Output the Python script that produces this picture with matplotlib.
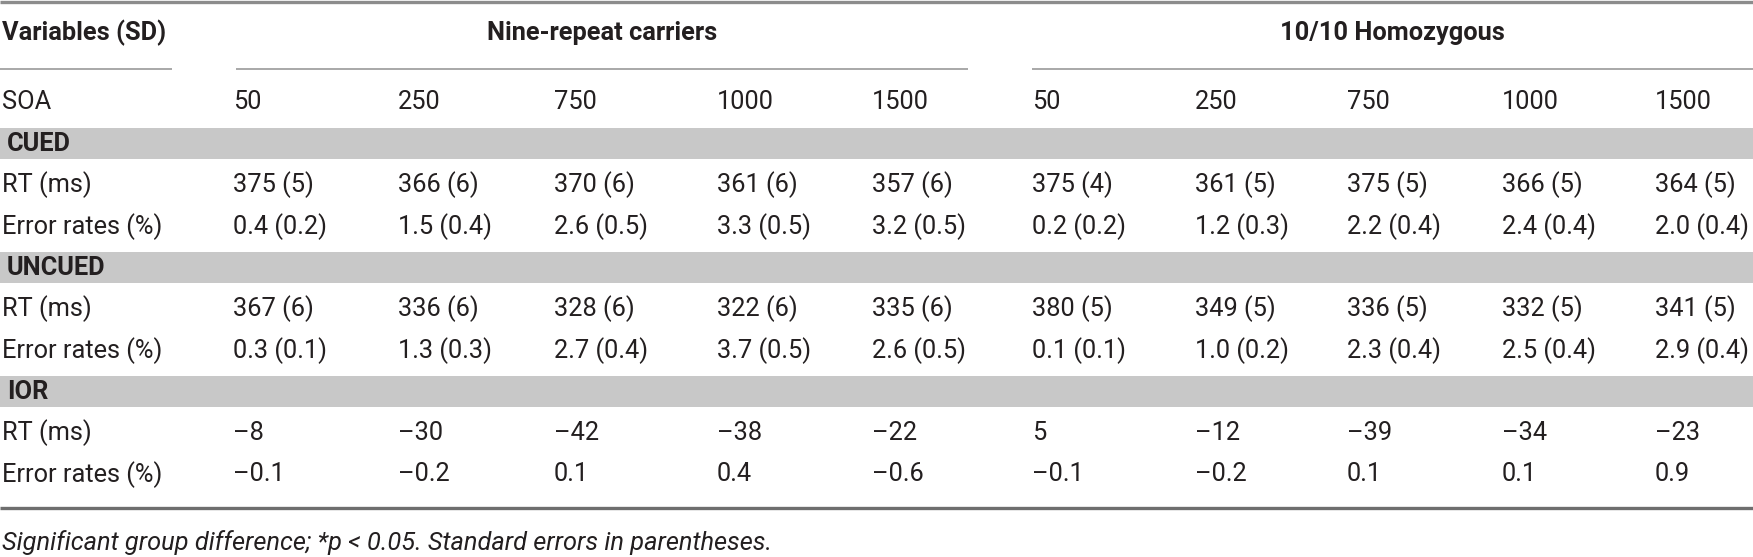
import matplotlib
matplotlib.use("Agg")
import matplotlib.pyplot as plt

plt.rcParams['font.family'] = ['Roboto', 'Liberation Sans', 'DejaVu Sans']

# table data
soa = [50, 250, 750, 1000, 1500]
groups = ["Nine-repeat carriers", "10/10 Homozygous"]
sections = ["CUED", "UNCUED", "IOR"]
row_labels = ["RT (ms)", "Error rates (%)"]

# nine-repeat carriers
nine_cued_rt = [375, 366, 370, 361, 357]
nine_cued_rt_se = [5, 6, 6, 6, 6]
nine_cued_err = [0.4, 1.5, 2.6, 3.3, 3.2]
nine_cued_err_se = [0.2, 0.4, 0.5, 0.5, 0.5]
nine_uncued_rt = [367, 336, 328, 322, 335]
nine_uncued_rt_se = [6, 6, 6, 6, 6]
nine_uncued_err = [0.3, 1.3, 2.7, 3.7, 2.6]
nine_uncued_err_se = [0.1, 0.3, 0.4, 0.5, 0.5]
nine_ior_rt = [-8, -30, -42, -38, -22]
nine_ior_err = [-0.1, -0.2, 0.1, 0.4, -0.6]

# 10/10 homozygous
homo_cued_rt = [375, 361, 375, 366, 364]
homo_cued_rt_se = [4, 5, 5, 5, 5]
homo_cued_err = [0.2, 1.2, 2.2, 2.4, 2.0]
homo_cued_err_se = [0.2, 0.3, 0.4, 0.4, 0.4]
homo_uncued_rt = [380, 349, 336, 332, 341]
homo_uncued_rt_se = [5, 5, 5, 5, 5]
homo_uncued_err = [0.1, 1.0, 2.3, 2.5, 2.9]
homo_uncued_err_se = [0.1, 0.2, 0.4, 0.4, 0.4]
homo_ior_rt = [5, -12, -39, -34, -23]
homo_ior_err = [-0.1, -0.2, 0.1, 0.1, 0.9]

footnote = "Significant group difference; *p < 0.05. Standard errors in parentheses."


def num(v, dec):
    s = f"{abs(v):.{dec}f}"
    return ("\u2013" + s) if v < 0 else s


def cells(vals, ses, dec):
    if ses is None:
        return [num(v, dec) for v in vals]
    return [f"{num(v, dec)} ({num(e, dec)})" for v, e in zip(vals, ses)]


body = {
    "CUED": [cells(nine_cued_rt, nine_cued_rt_se, 0) + cells(homo_cued_rt, homo_cued_rt_se, 0),
             cells(nine_cued_err, nine_cued_err_se, 1) + cells(homo_cued_err, homo_cued_err_se, 1)],
    "UNCUED": [cells(nine_uncued_rt, nine_uncued_rt_se, 0) + cells(homo_uncued_rt, homo_uncued_rt_se, 0),
               cells(nine_uncued_err, nine_uncued_err_se, 1) + cells(homo_uncued_err, homo_uncued_err_se, 1)],
    "IOR": [cells(nine_ior_rt, None, 0) + cells(homo_ior_rt, None, 0),
            cells(nine_ior_err, None, 1) + cells(homo_ior_err, None, 1)],
}

W, H = 1753, 557
fig = plt.figure(figsize=(W / 100, H / 100), dpi=100)
ax = fig.add_axes([0, 0, 1, 1])
ax.set_xlim(0, W)
ax.set_ylim(H, 0)
ax.axis('off')

ink = '#231f20'
band = '#c8c8c8'
fs = 18.3
wt = 'normal'
col_x = [233, 398, 554, 717, 872, 1032, 1195, 1347, 1502, 1655]
label_x = 2
row_step = 41.3

# rules at top
ax.plot([0, W], [1.5, 1.5], color='#8c8c8c', lw=2.4, solid_capstyle='butt')
ax.plot([0, 172], [69, 69], color='#9a9a9a', lw=1.2, solid_capstyle='butt')
ax.plot([236, 968], [69, 69], color='#9a9a9a', lw=1.2, solid_capstyle='butt')
ax.plot([1032, W], [69, 69], color='#9a9a9a', lw=1.2, solid_capstyle='butt')

# header
ax.text(label_x, 33, "Variables (SD)", fontsize=fs, fontweight='bold', color=ink, va='center')
ax.text((236 + 968) / 2, 33, groups[0], fontsize=fs, fontweight='bold', color=ink, va='center', ha='center')
ax.text((1032 + W) / 2, 33, groups[1], fontsize=fs, fontweight='bold', color=ink, va='center', ha='center')

ax.text(label_x, 102, "SOA", fontsize=fs, fontweight=wt, color=ink, va='center')
for x, s in zip(col_x, soa + soa):
    ax.text(x, 102, str(s), fontsize=fs, fontweight=wt, color=ink, va='center')

# sections: grey band, then RT row and error-rate row
band_top = [128, 252, 376]
for sec, top in zip(sections, band_top):
    ax.add_patch(plt.Rectangle((0, top), W, 31, color=band, lw=0))
    ax.text(7, top + 16, sec, fontsize=fs, fontweight='bold', color=ink, va='center')
    for k, lab in enumerate(row_labels):
        y = top + 15.5 + row_step * (k + 1)
        ax.text(label_x, y, lab, fontsize=fs, fontweight=wt, color=ink, va='center')
        for x, s in zip(col_x, body[sec][k]):
            ax.text(x, y, s, fontsize=fs, fontweight=wt, color=ink, va='center')

# bottom rule and footnote
ax.plot([0, W], [508, 508], color='#6e6e6e', lw=2.4, solid_capstyle='butt')
ax.text(label_x, 543, footnote, fontsize=fs, fontweight=wt, style='italic', color=ink, va='center')

fig.savefig("out.png", dpi=100)
